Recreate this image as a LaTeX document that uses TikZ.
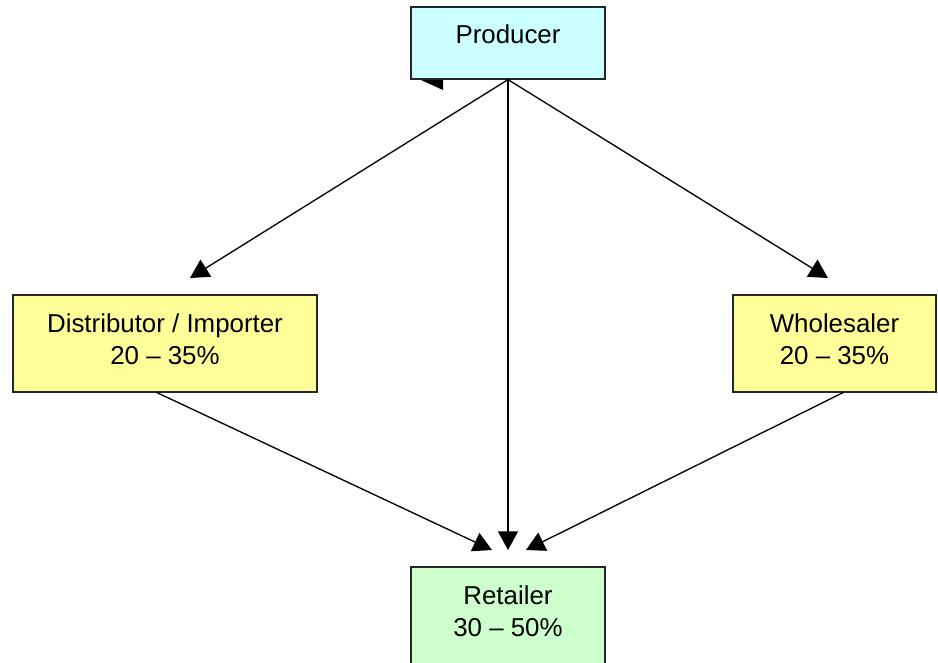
\documentclass[tikz,border=0pt]{standalone}
\usepackage{fontspec}
\setmainfont{Liberation Sans}
\usetikzlibrary{arrows.meta}

\definecolor{prodcyan}{HTML}{CCFFFF}
\definecolor{midyellow}{HTML}{FFFF99}
\definecolor{retgreen}{HTML}{CCFFCC}

\begin{document}
\begin{tikzpicture}[x=0.75pt, y=-0.75pt,
		box/.style={draw=black!85, line width=0.9pt, align=center, inner sep=0pt,
			font=\fontsize{19.4}{24}\selectfont},
		flow/.style={-{Triangle[length=14pt,width=15pt]}, line width=1pt}]
		\useasboundingbox (0,0) rectangle (938,662);
		% boxes
		\node[box, fill=prodcyan, minimum width=145.5pt, minimum height=54pt, text depth=14pt]
			(prod) at (508,43) {Producer};
		\node[box, fill=midyellow, minimum width=228pt, minimum height=72.75pt, text depth=7pt]
			(dist) at (165,343.5) {Distributor / Importer\\20 -- 35\%};
		\node[box, fill=midyellow, minimum width=152.25pt, minimum height=72.75pt, text depth=7pt]
			(whole) at (834.5,343.5) {Wholesaler\\20 -- 35\%};
		\node[box, fill=retgreen, minimum width=145.5pt, minimum height=72.75pt, text depth=7pt]
			(ret) at (508,615.5) {Retailer\\30 -- 50\%};
		% arrow ends
		\coordinate (toDist) at (190,278);
		\coordinate (toWhole) at (828,278);
		\coordinate (toRetL) at (492,550);
		\coordinate (toRetM) at (508,550);
		\coordinate (toRetR) at (526,550);
		\path[flow]
		(prod.south) edge (toDist)
		(prod.south) edge (toRetM)
		(prod.south) edge (toWhole)
		([xshift=-6pt]dist.south) edge (toRetL)
		([xshift=6.4pt]whole.south) edge (toRetR);
		\fill (421,80) -- (443,80) -- (443,90) -- cycle;
	\end{tikzpicture}
\end{document}
